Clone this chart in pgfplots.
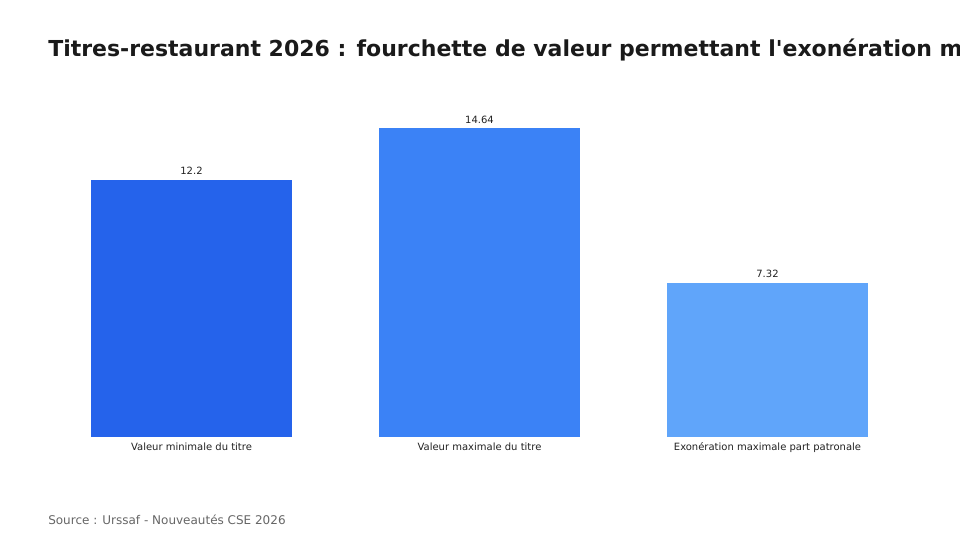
\documentclass[border=0pt]{standalone}
\usepackage{pgfplots}
\pgfplotsset{compat=1.18}
\usepackage{fontspec}
\setmainfont{DejaVu Sans}
\newfontfamily\titlefont{DejaVu Sans Bold}
\definecolor{c1}{HTML}{2563EB}
\definecolor{c2}{HTML}{3B82F6}
\definecolor{c3}{HTML}{60A5FA}
\definecolor{titlec}{HTML}{1A1A1A}
\definecolor{lab}{HTML}{222222}
\definecolor{src}{HTML}{666666}
\begin{document}
\begin{tikzpicture}[x=0.75pt,y=0.75pt]
\useasboundingbox (0,0) rectangle (960,540);
\clip (0,0) rectangle (960,540);
\fill[white] (0,0) rectangle (960,540);
\begin{axis}[
  at={(35.625pt,77.25pt)}, anchor=south west,
  scale only axis, width=648pt, height=253.2pt,
  xmin=-0.5, xmax=2.5, ymin=0, ymax=16,
  axis line style={draw=none}, tick style={draw=none},
  ytick=\empty, xtick={0,1,2},
  xticklabels={Valeur minimale du titre, Valeur maximale du titre, Exonération maximale part patronale},
  xticklabel style={font=\fontsize{7.5}{8}\selectfont, text=lab, yshift=3.5pt},
  ybar, bar width=0.698, bar shift=0pt,
  nodes near coords,
  nodes near coords style={font=\fontsize{7.5}{8}\selectfont, text=lab},
  point meta=explicit symbolic,
]
\addplot[fill=c1, draw=none] coordinates {(0,12.2) [12.2]};
\addplot[fill=c2, draw=none] coordinates {(1,14.64) [14.64]};
\addplot[fill=c3, draw=none] coordinates {(2,7.32) [7.32]};
\end{axis}
\node[anchor=base west, inner sep=0, text=titlec, font=\fontsize{16.5}{20}\selectfont\titlefont] at (48,483) {Titres-restaurant 2026 : fourchette de valeur permettant l'exonération maximale};
\node[anchor=base west, inner sep=0, text=src, font=\fontsize{9}{10}\selectfont] at (48,16) {Source : Urssaf - Nouveautés CSE 2026};
\end{tikzpicture}
\end{document}
